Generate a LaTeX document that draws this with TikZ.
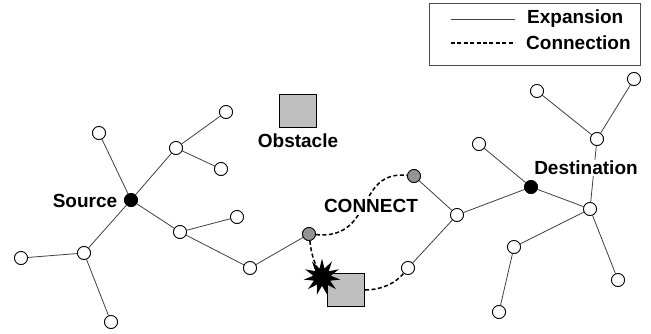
\documentclass[tikz,border=0pt]{standalone}
\usepackage{fontspec}
\setmainfont{Liberation Sans}
\usetikzlibrary{shapes.geometric}
\begin{document}
\begin{tikzpicture}[x=1pt,y=-1pt,
  v/.style={circle,draw=black,fill=white,line width=0.8pt,minimum size=13pt,inner sep=0pt},
  vb/.style={v,fill=black},
  vg/.style={v,fill=black!42},
  edge/.style={draw=black!75,line width=0.8pt},
  conn/.style={draw=black,line width=1.5pt,dash pattern=on 4pt off 2.5pt},
  lbl/.style={font=\bfseries\fontsize{19}{21}\selectfont,inner sep=1pt},
  obst/.style={draw=black,fill=black!25,line width=1pt,minimum width=37pt,minimum height=33pt,inner sep=0pt}]
\useasboundingbox (0,0) rectangle (651,333);
% legend
\node[draw=black!70,line width=0.8pt,minimum width=211pt,minimum height=62pt,inner sep=0pt] (leg) at (534.5,34) {};
\coordinate (l1a) at (451,19); \coordinate (l1b) at (515,19);
\coordinate (l2a) at (451,43); \coordinate (l2b) at (515,43);
\draw[edge] (l1a) -- (l1b);
\draw[draw=black,line width=1.3pt,dash pattern=on 4pt off 2.4pt] (l2a) -- (l2b);
\node[lbl,anchor=west] (tE) at (526,19) {Expansion};
\node[lbl,anchor=west] (tC) at (525,43) {Connection};
% obstacle
\node[obst] (ob1) at (297.5,111) {};
\node[lbl] (tob) at (298,141) {Obstacle};
% left tree nodes
\node[vb] (S) at (131,200) {};
\node[v] (A) at (99,133) {};
\node[v] (B) at (176,148) {};
\node[v] (B1) at (226,112) {};
\node[v] (B2) at (221,169) {};
\node[v] (C) at (180,232) {};
\node[v] (C1) at (237,217) {};
\node[v] (E) at (250,268) {};
\node[vg] (G1) at (309,234) {};
\node[v] (D) at (84,253) {};
\node[v] (D1) at (21,258) {};
\node[v] (D2) at (111,322) {};
% right tree nodes
\node[vg] (G2) at (414,176) {};
\node[v] (F) at (457,215) {};
\node[v] (H) at (408,268) {};
\node[vb] (T) at (531,187) {};
\node[v] (I) at (479,144) {};
\node[v] (K) at (590,209) {};
\node[v] (J) at (597,139) {};
\node[v] (J1) at (537,91) {};
\node[v] (J2) at (634,79) {};
\node[v] (K1) at (514,247) {};
\node[v] (K11) at (499,312) {};
\node[v] (K2) at (618,280) {};
% edges
\draw[edge] (S) -- (A);
\draw[edge] (S) -- (B);
\draw[edge] (B) -- (B1);
\draw[edge] (B) -- (B2);
\draw[edge] (S) -- (C);
\draw[edge] (C) -- (C1);
\draw[edge] (C) -- (E);
\draw[edge] (E) -- (G1);
\draw[edge] (S) -- (D);
\draw[edge] (D) -- (D1);
\draw[edge] (D) -- (D2);
\draw[edge] (G2) -- (F);
\draw[edge] (F) -- (H);
\draw[edge] (F) -- (T);
\draw[edge] (T) -- (I);
\draw[edge] (T) -- (K);
\draw[edge] (K) -- (J);
\draw[edge] (J) -- (J1);
\draw[edge] (J) -- (J2);
\draw[edge] (K) -- (K1);
\draw[edge] (K1) -- (K11);
\draw[edge] (K) -- (K2);
% connections
\draw[conn] (G1) .. controls (375,240) and (355,170) .. (G2);
\node[obst] (ob2) at (346,290) {};
\node[star,star points=11,star point ratio=2.1,fill=black,minimum size=37pt,inner sep=0pt] (boom) at (322,277) {};
\draw[conn] (G1) .. controls (311,250) and (312,260) .. (boom.center);
\draw[conn] (ob2.east) .. controls (380,290) and (395,284) .. (H);
% labels with white backgrounds
\node[lbl,fill=white] (tS) at (85,201) {Source};
\node[lbl,fill=white] (tD) at (586,168) {Destination};
\node[lbl,fill=white] (tCN) at (371,206) {CONNECT};
% redraw nodes over edges
\foreach \n in {A,B,B1,B2,C,C1,E,D,D1,D2,F,H,I,K,J,J1,J2,K1,K11,K2}{\node[v] at (\n) {};}
\foreach \n in {S,T}{\node[vb] at (\n) {};}
\foreach \n in {G1,G2}{\node[vg] at (\n) {};}
\end{tikzpicture}
\end{document}
